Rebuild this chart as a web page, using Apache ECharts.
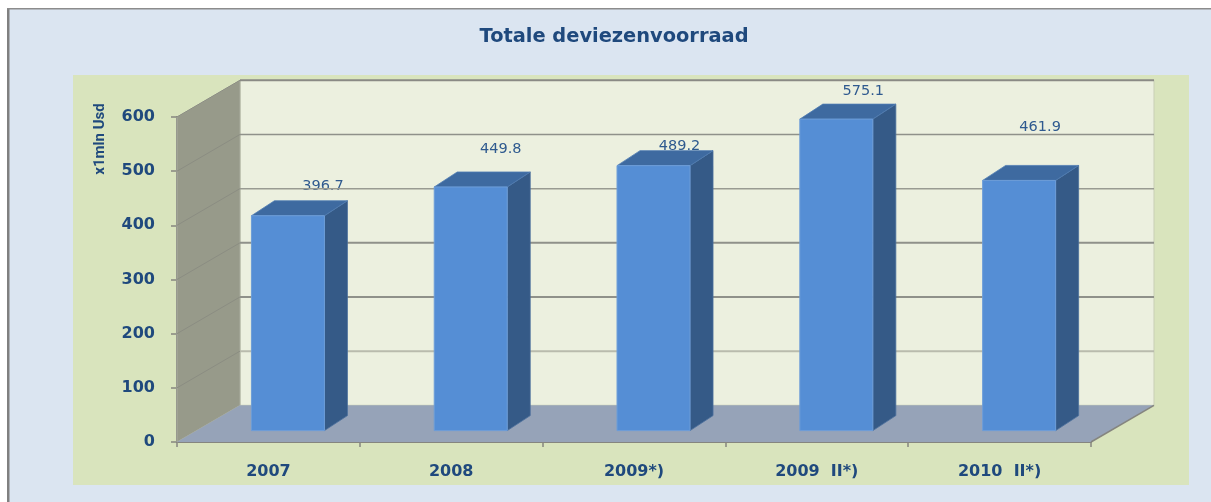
<!DOCTYPE html>
<html>
<head>
<meta charset="utf-8">
<style>
html,body{margin:0;padding:0;background:#fff;}
#c{position:absolute;left:0;top:0;width:1211px;height:502px;}
canvas{filter:blur(0.45px);}
</style>
<script src="https://cdn.jsdelivr.net/npm/echarts@6/dist/echarts.min.js"></script>
</head>
<body>
<div id="c"></div>
<script>
const categories = ['2007', '2008', '2009*)', '2009  II*)', '2010  II*)'];
const reserves = [396.7, 449.8, 489.2, 575.1, 461.9];
const yTicks = [100, 200, 300, 400, 500, 600];
const chartTitle = 'Totale deviezenvoorraad';
const yAxisTitle = 'x1mln Usd';

const DEPTH_X = 63, DEPTH_Y = 36.7;          // depth of the 3D box
const BAR_W = 73, BAR_FRONT = 0.31, BAR_DX = 23, BAR_DY = 15;
const LABEL_SHIFT = [[35, -31], [30, -39], [26, -20], [27, -29], [21, -54]];
const GRID_STYLE = [['#b9bbad', 2], ['#8f918a', 2], ['#8f918a', 2], ['#999b92', 1.5], ['#8f918a', 1.5], ['#8a8a85', 2]];
const TEXT = '#1f497d';

const chart = echarts.init(document.getElementById('c'), null, {renderer: 'canvas'});

function poly(points, fill, stroke, sw) {
  return {type: 'polygon', shape: {points},
    style: {fill, stroke: stroke || null, lineWidth: sw || 0}};
}
function seg(a, b, stroke, w) {
  return {type: 'line', shape: {x1: a[0], y1: a[1], x2: b[0], y2: b[1]},
    style: {stroke, lineWidth: w}};
}

function renderWalls(p, api) {
  const ext = p.coordSys;
  const L = ext.x, R = ext.x + ext.width;
  const y0 = api.coord([0, 0])[1], yT = api.coord([0, 600])[1];
  return {type: 'group', children: [
    poly([[L + DEPTH_X, yT - DEPTH_Y], [R + DEPTH_X, yT - DEPTH_Y], [R + DEPTH_X, y0 - DEPTH_Y], [L + DEPTH_X, y0 - DEPTH_Y]], '#ecf0df', '#c9cfb5', 1),
    poly([[L, yT], [L + DEPTH_X, yT - DEPTH_Y], [L + DEPTH_X, y0 - DEPTH_Y], [L, y0]], '#979a8a', '#a9ac9e', 1),
    poly([[L, y0], [L + DEPTH_X, y0 - DEPTH_Y], [R + DEPTH_X, y0 - DEPTH_Y], [R, y0]], '#96a3b8', null, 0),
    seg([R, y0], [R + DEPTH_X, y0 - DEPTH_Y], '#85857f', 1.5)
  ]};
}

function renderGridLine(p, api) {
  const tick = yTicks[p.dataIndex], ext = p.coordSys;
  const y = api.coord([0, tick])[1];
  const L = ext.x, R = ext.x + ext.width;
  const st = GRID_STYLE[p.dataIndex];
  return {type: 'group', children: [
    seg([L, y], [L + DEPTH_X, y - DEPTH_Y], '#8b8d82', 1),
    seg([L + DEPTH_X, y - DEPTH_Y], [R + DEPTH_X, y - DEPTH_Y], st[0], st[1])
  ]};
}

function barAnchor(api) {
  const i = api.value(0), v = api.value(1);
  const base = api.coord([i, 0]), top = api.coord([i, v]);
  const dx = DEPTH_X * BAR_FRONT, dy = DEPTH_Y * BAR_FRONT;
  return {cx: base[0] + dx, y0: base[1] - dy, y1: top[1] - dy};
}

function renderBar(p, api) {
  const a = barAnchor(api);
  const l = a.cx - BAR_W / 2, r = a.cx + BAR_W / 2;
  return {type: 'group', children: [
    poly([[r, a.y1], [r + BAR_DX, a.y1 - BAR_DY], [r + BAR_DX, a.y0 - BAR_DY], [r, a.y0]], '#355a87', '#4a6f9c', 0.8),
    poly([[l, a.y1], [l + BAR_DX, a.y1 - BAR_DY], [r + BAR_DX, a.y1 - BAR_DY], [r, a.y1]], '#3e6aa0', '#4f7cb3', 0.8),
    {type: 'rect', shape: {x: l, y: a.y1, width: BAR_W, height: a.y0 - a.y1},
      style: {fill: '#558ed5', stroke: '#6d9dd8', lineWidth: 1}}
  ]};
}

function renderLabel(p, api) {
  const a = barAnchor(api), s = LABEL_SHIFT[p.dataIndex];
  return {type: 'text', style: {
    x: a.cx + s[0], y: a.y1 + s[1] + 1,
    text: api.value(1).toFixed(1),
    fill: '#2f5a8f', font: '14.5px "DejaVu Sans"',
    align: 'center', verticalAlign: 'middle'}};
}

const pairs = categories.map((c, i) => [i, reserves[i]]);

chart.setOption({
  animation: false,
  backgroundColor: '#ffffff',
  graphic: [
    {type: 'rect', z: -10, shape: {x: 7, y: 8, width: 1204, height: 494},
      style: {fill: '#dbe5f1'}},
    {type: 'rect', z: -9, shape: {x: 7, y: 8, width: 2.5, height: 494}, style: {fill: '#808080'}},
    {type: 'rect', z: -9, shape: {x: 7, y: 8, width: 1204, height: 1.5}, style: {fill: '#8c8c8c'}},
    {type: 'rect', z: -8, shape: {x: 73, y: 75, width: 1116, height: 410}, style: {fill: '#d9e4bd'}},
    {type: 'text', z: 20, x: 100, y: 139, rotation: Math.PI / 2,
      style: {text: yAxisTitle, fill: TEXT, font: 'bold 15px Roboto', align: 'center', verticalAlign: 'middle'}}
  ],
  title: {
    text: chartTitle, left: 609, top: 22, textAlign: 'center',
    textStyle: {color: TEXT, fontFamily: 'DejaVu Sans', fontWeight: 'bold', fontSize: 19.4}
  },
  grid: {left: 177, top: 117, width: 914, height: 325, containLabel: false},
  xAxis: {
    type: 'category', data: categories, boundaryGap: true,
    axisLine: {show: true, onZero: false, lineStyle: {color: '#85857f', width: 2}},
    axisTick: {show: true, length: 5, alignWithLabel: false, lineStyle: {color: '#85857f', width: 1.5}},
    axisLabel: {color: TEXT, fontFamily: 'DejaVu Sans', fontWeight: 'bold', fontSize: 16, margin: 22, interval: 0},
    splitLine: {show: false}
  },
  yAxis: {
    type: 'value', min: 0, max: 600, interval: 100,
    axisLine: {show: true, lineStyle: {color: '#85857f', width: 2}},
    axisTick: {show: true, length: 6, lineStyle: {color: '#85857f', width: 1.5}},
    axisLabel: {color: TEXT, fontFamily: 'DejaVu Sans', fontWeight: 'bold', fontSize: 16, margin: 22},
    splitLine: {show: false}
  },
  series: [
    {type: 'custom', name: 'walls', z: 1, silent: true, clip: false, renderItem: renderWalls, data: [[0, 0]], encode: {x: 0, y: 1}},
    {type: 'custom', name: 'labels', z: 2, silent: true, clip: false, renderItem: renderLabel, data: pairs, encode: {x: 0, y: 1}},
    {type: 'custom', name: 'gridlines', z: 3, silent: true, clip: false, renderItem: renderGridLine,
      data: yTicks.map((t, i) => [i, t]), encode: {x: 0, y: 1}},
    {type: 'custom', name: 'Totale deviezenvoorraad', z: 4, clip: false, renderItem: renderBar, data: pairs, encode: {x: 0, y: 1}}
  ]
});
</script>
</body>
</html>
